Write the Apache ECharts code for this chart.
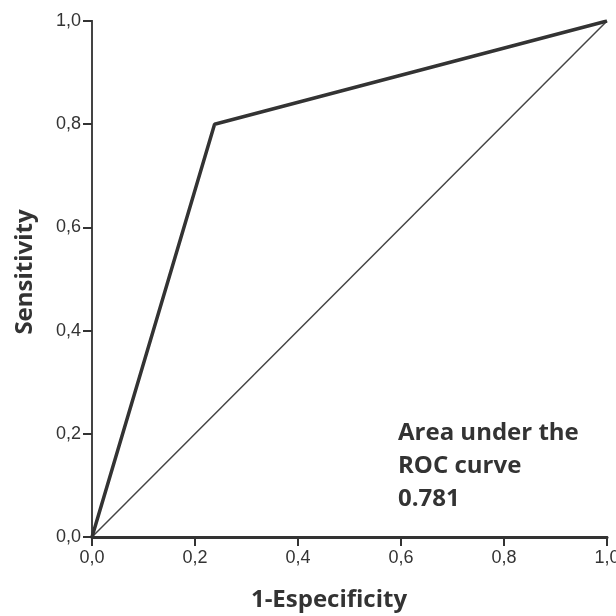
<!DOCTYPE html>
<html>
<head>
<meta charset="utf-8">
<script src="https://cdn.jsdelivr.net/npm/echarts@6/dist/echarts.min.js"></script>
<style>html,body{margin:0;padding:0;background:#fff;}#c{width:616px;height:616px;}</style>
</head>
<body>
<div id="c"></div>
<script>
var rocFpr = [0, 0.238, 1];
var rocTpr = [0, 0.8, 1];
var refFpr = [0, 1];
var refTpr = [0, 1];
var aucValue = '0.781';
var xTitle = '1-Especificity';
var yTitle = 'Sensitivity';
var noteLines = ['Area under the', 'ROC curve', aucValue];

function pairs(xs, ys) { return xs.map(function (x, i) { return [x, ys[i]]; }); }
function fmt(v) { return v.toFixed(1).replace('.', ','); }

var chart = echarts.init(document.getElementById('c'));
var labelStyle = { formatter: fmt, color: '#333', fontFamily: 'Arial', fontSize: 18 };
var axisCommon = {
  type: 'value', min: 0, max: 1, interval: 0.2,
  axisLine: { show: true, lineStyle: { color: '#333', width: 2 } },
  axisTick: { show: true, inside: false, length: 9, lineStyle: { color: '#333', width: 2 } },
  splitLine: { show: false },
  nameLocation: 'middle'
};
var titleStyle = { fontFamily: 'Open Sans', fontWeight: 'bold', fontSize: 24, color: '#333' };
chart.setOption({
  animation: false,
  backgroundColor: '#fff',
  grid: { left: 92, right: 9, top: 21, bottom: 79, containLabel: false, outerBoundsMode: 'none' },
  xAxis: [
    Object.assign({}, axisCommon, {
      name: xTitle, nameGap: 51,
      nameTextStyle: Object.assign({}, titleStyle, { padding: [0, 41, 0, 0] }),
      axisLabel: Object.assign({}, labelStyle, { margin: 12 })
    }),
    { type: 'value', min: 0, max: 1, position: 'top', axisLine: { show: true, lineStyle: { color: '#333', width: 3 } }, axisTick: { show: false }, axisLabel: { show: false }, splitLine: { show: false } }
  ],
  yAxis: [
    Object.assign({}, axisCommon, {
      name: yTitle, nameGap: 55,
      nameTextStyle: Object.assign({}, titleStyle, { padding: [0, 0, 0, 14] }),
      axisLabel: Object.assign({}, labelStyle, { margin: 11 })
    }),
    { type: 'value', min: 0, max: 1, position: 'right', axisLine: { show: true, lineStyle: { color: '#444', width: 2 } }, axisTick: { show: false }, axisLabel: { show: false }, splitLine: { show: false } }
  ],
  series: [
    { type: 'line', data: pairs(refFpr, refTpr), symbol: 'none', lineStyle: { color: '#444', width: 1.5 }, z: 2 },
    { type: 'line', data: pairs(rocFpr, rocTpr), symbol: 'none', lineStyle: { color: '#333', width: 3.5 }, z: 3 }
  ],
  graphic: [{
    type: 'text', left: 398, top: 417,
    style: { text: noteLines.join('\n'), fontFamily: 'Open Sans', fontWeight: 'bold', fontSize: 24, lineHeight: 33, fill: '#333' }
  }]
});
</script>
</body>
</html>
